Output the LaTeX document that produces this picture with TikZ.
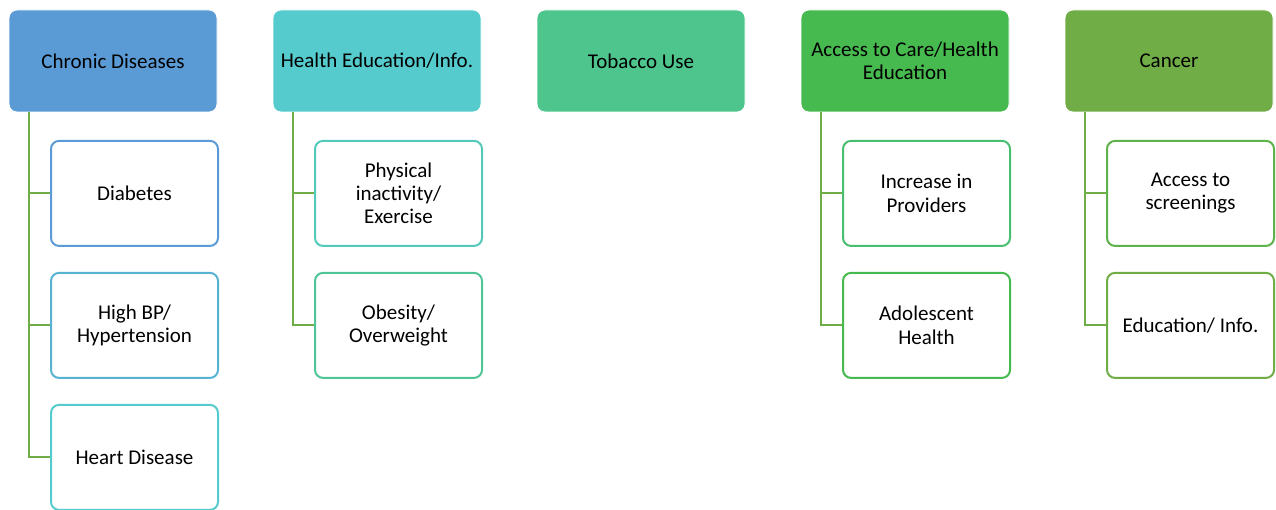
\documentclass[tikz,border=0pt]{standalone}
\usepackage{fontspec}
\setmainfont{Carlito}
\usetikzlibrary{positioning}

\definecolor{hdblue}{HTML}{5B9BD5}
\definecolor{hdcyan}{HTML}{55CBCD}
\definecolor{hdteal}{HTML}{4EC58D}
\definecolor{hdgreen}{HTML}{47BA4F}
\definecolor{hdolive}{HTML}{70AD47}
\definecolor{bdBP}{HTML}{58B2D2}
\definecolor{bdPhys}{HTML}{52C9BA}
\definecolor{bdObes}{HTML}{4FC597}
\definecolor{bdIncr}{HTML}{4ABE70}
\definecolor{bdAcc}{HTML}{5EB24A}

\begin{document}
\begin{tikzpicture}[
    x=1pt, y=1pt,
    node distance=25pt,
    topic/.style={rectangle, rounded corners=8pt, draw=white, line width=0.8pt, align=center,
        minimum width=208pt, minimum height=102pt, inner sep=2pt,
        font=\fontsize{21}{23.3}\selectfont},
    item/.style={rectangle, rounded corners=8pt, draw=#1, line width=2pt, fill=white, align=center,
        minimum width=167pt, minimum height=105pt, inner sep=2pt,
        font=\fontsize{21}{23.3}\selectfont},
    link/.style={draw=hdolive, line width=2pt}
]
    \useasboundingbox (0,0) rectangle (1276,-510);

    % top row
    \node[topic, fill=hdblue] (chronic) at (113,-61) {Chronic Diseases};
    \node[topic, fill=hdcyan] (healthed) at (377,-61) {Health Education/Info.};
    \node[topic, fill=hdteal] (tobacco) at (641,-61) {Tobacco Use};
    \node[topic, fill=hdgreen] (access) at (905,-61) {Access to Care/Health\\Education};
    \node[topic, fill=hdolive] (cancer) at (1169,-61) {Cancer};

    % Chronic Diseases
    \node[item=hdblue, below=27.5pt of chronic, xshift=21.5pt] (diabetes) {Diabetes};
    \node[item=bdBP, below=of diabetes] (highbp) {High BP/\\Hypertension};
    \node[item=hdcyan, below=of highbp] (heart) {Heart Disease};

    % Health Education/Info.
    \node[item=bdPhys, below=27.5pt of healthed, xshift=21.5pt] (physical) {Physical\\inactivity/\\Exercise};
    \node[item=bdObes, below=of physical] (obesity) {Obesity/\\Overweight};

    % Access to Care/Health Education
    \node[item=bdIncr, below=27.5pt of access, xshift=21.5pt] (providers) {Increase in\\Providers};
    \node[item=hdgreen, below=of providers] (adolescent) {Adolescent\\Health};

    % Cancer
    \node[item=bdAcc, below=27.5pt of cancer, xshift=21.5pt] (screening) {Access to\\screenings};
    \node[item=hdolive, below=of screening] (eduinfo) {Education/ Info.};

    \draw[link] ([xshift=20pt]chronic.south west) |- (diabetes.west);
    \draw[link] ([xshift=20pt]chronic.south west) |- (highbp.west);
    \draw[link] ([xshift=20pt]chronic.south west) |- (heart.west);

    \draw[link] ([xshift=20pt]healthed.south west) |- (physical.west);
    \draw[link] ([xshift=20pt]healthed.south west) |- (obesity.west);

    \draw[link] ([xshift=20pt]access.south west) |- (providers.west);
    \draw[link] ([xshift=20pt]access.south west) |- (adolescent.west);

    \draw[link] ([xshift=20pt]cancer.south west) |- (screening.west);
    \draw[link] ([xshift=20pt]cancer.south west) |- (eduinfo.west);
\end{tikzpicture}
\end{document}
